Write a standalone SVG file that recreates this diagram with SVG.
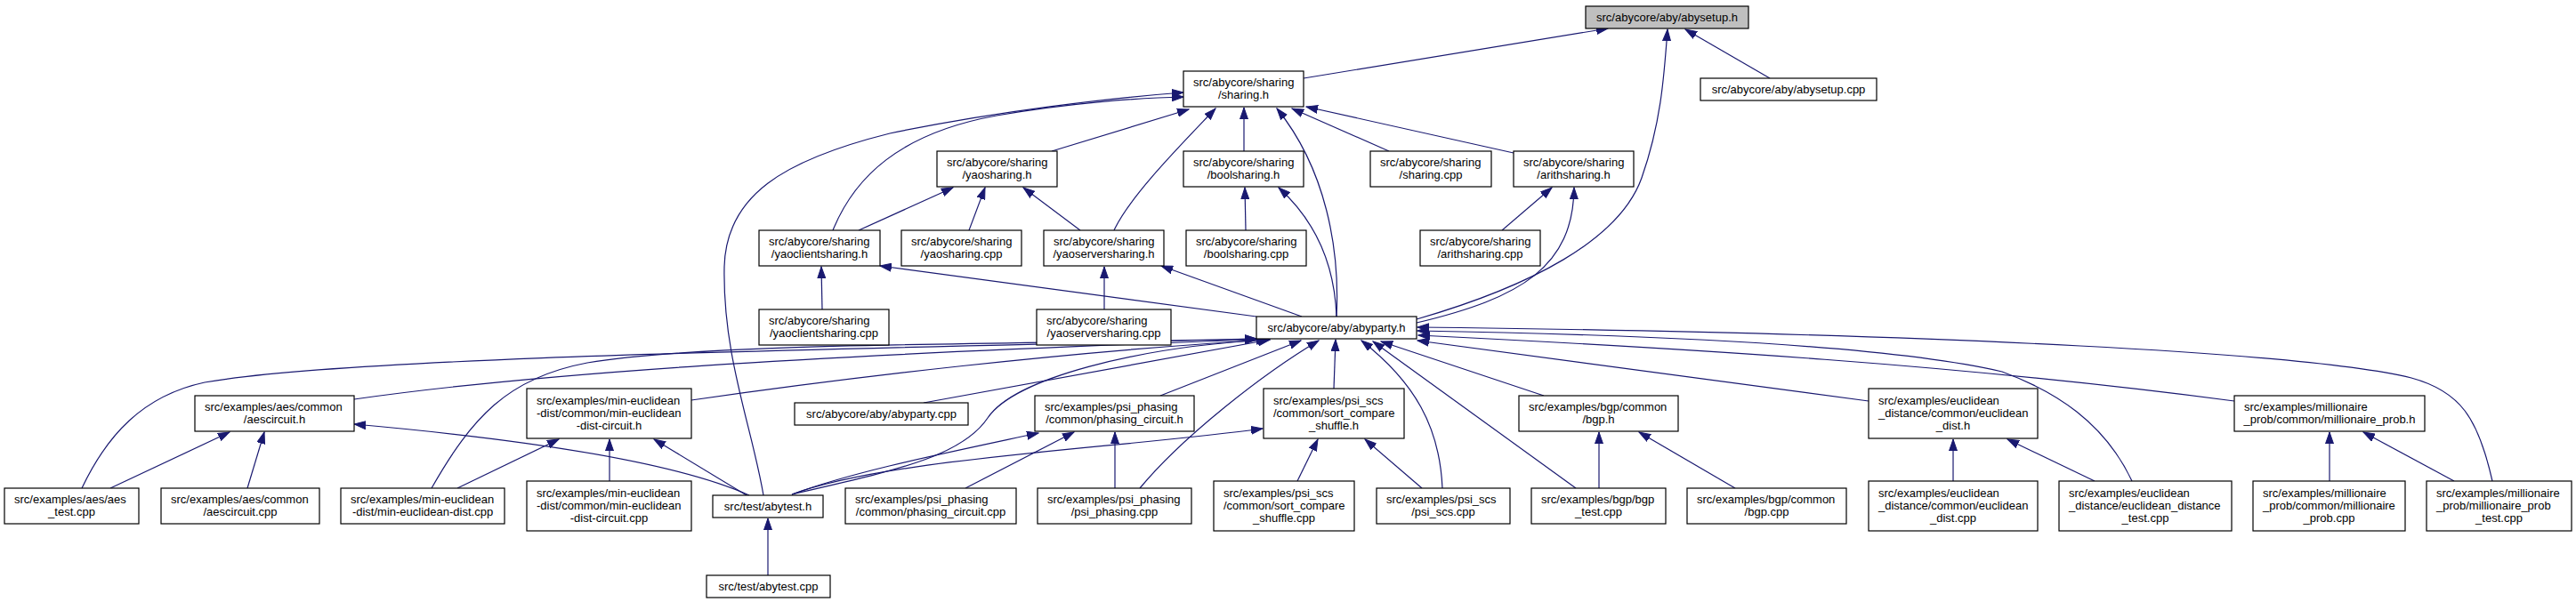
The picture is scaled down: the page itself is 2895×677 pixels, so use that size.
<svg xmlns="http://www.w3.org/2000/svg" width="2895" height="677" viewBox="0 0 2895 677">
<defs>
<style>
.n rect{fill:#fff;stroke:#000;stroke-width:1.2}
.root rect{fill:#bfbfbf}
text{font-family:"Liberation Sans",Arial,Helvetica,sans-serif;font-size:13px;fill:#000}
.m{text-anchor:middle}
#edges path{fill:none;stroke:#191970;stroke-width:1.2;marker-end:url(#ah)}
</style>
<marker id="ah" markerUnits="userSpaceOnUse" markerWidth="14" markerHeight="10" refX="13" refY="5" orient="auto"><path d="M0,0.5 L13,5 L0,9.5 z" fill="#191970" stroke="#191970" stroke-width="1"/></marker>
</defs>
<rect width="2895" height="677" fill="#fff"/>
<g id="edges">
<path d="M1465,88 L1807,32"/>
<path d="M1989,88 L1894,33"/>
<path d="M1592,359 C1720,322 1820,270 1845,200 C1866,140 1870,90 1874,33"/>
<path d="M1182,170 L1336,123"/>
<path d="M1398,170 L1398,121"/>
<path d="M1561,170 L1452,122"/>
<path d="M1701,172 L1468,120"/>
<path d="M1252,259 C1270,220 1330,160 1366,122"/>
<path d="M1502,356 C1506,280 1490,190 1435,122"/>
<path d="M1502,356 C1500,300 1480,250 1437,211"/>
<path d="M936,259 C960,200 1010,150 1120,130 C1200,116 1280,110 1330,109"/>
<path d="M858,557 C845,480 812,400 814,300 C816,220 880,180 1000,150 C1120,125 1250,110 1330,104"/>
<path d="M965,259 L1071,211"/>
<path d="M1089,259 L1107,211"/>
<path d="M1214,259 L1150,211"/>
<path d="M1400,259 L1399,211"/>
<path d="M1688,259 L1744,211"/>
<path d="M1592,363 C1710,335 1768,300 1769,211"/>
<path d="M924,348 L923,300"/>
<path d="M1412,356 L989,299"/>
<path d="M1241,348 L1241,300"/>
<path d="M1463,356 L1305,299"/>
<path d="M92,549 C120,490 160,445 230,430 C400,400 1000,392 1412,381"/>
<path d="M485,549 C530,470 570,425 660,408 C800,385 1100,388 1412,381"/>
<path d="M398,449 C600,420 900,400 1412,382"/>
<path d="M777,450 C950,425 1200,395 1427,382"/>
<path d="M1038,453 L1427,382"/>
<path d="M890,556 C1000,530 1080,515 1110,470 C1140,425 1280,390 1425,382"/>
<path d="M1304,445 L1462,383"/>
<path d="M1281,549 C1330,490 1420,420 1482,383"/>
<path d="M1499,437 L1501,382"/>
<path d="M1621,549 C1618,480 1590,430 1530,383"/>
<path d="M1771,549 L1543,384"/>
<path d="M1735,445 L1552,384"/>
<path d="M2100,451 L1593,383"/>
<path d="M2511,451 C2200,410 1900,392 1594,377"/>
<path d="M2396,541 C2365,475 2310,440 2250,418 C2150,395 1950,378 1593,372"/>
<path d="M2801,541 C2785,470 2765,440 2710,425 C2600,398 2200,375 1593,368"/>
<path d="M842,557 C760,520 600,495 398,477"/>
<path d="M839,557 L735,494"/>
<path d="M890,556 C960,530 1060,510 1167,487"/>
<path d="M890,556 C1000,515 1250,505 1419,482"/>
<path d="M863,647 L863,583"/>
<path d="M124,549 L258,486"/>
<path d="M278,549 L297,486"/>
<path d="M514,549 L628,494"/>
<path d="M685,541 L685,494"/>
<path d="M1085,549 L1207,486"/>
<path d="M1253,549 L1253,486"/>
<path d="M1458,541 L1481,494"/>
<path d="M1598,549 L1534,494"/>
<path d="M1797,549 L1797,486"/>
<path d="M1950,549 L1842,486"/>
<path d="M2195,541 L2195,494"/>
<path d="M2354,541 L2256,494"/>
<path d="M2618,541 L2618,486"/>
<path d="M2758,541 L2656,486"/>
</g>
<g id="n0" class="n root"><rect x="1782" y="7" width="183" height="25"/><text class="m" x="1873.5" y="23.5">src/abycore/aby/abysetup.h</text></g>
<g id="n1" class="n"><rect x="1330" y="80" width="135" height="40"/><text x="1341" y="97">src/abycore/sharing</text><text class="m" x="1397.5" y="111">/sharing.h</text></g>
<g id="n2" class="n"><rect x="1911" y="88" width="198" height="25"/><text class="m" x="2010" y="104.5">src/abycore/aby/abysetup.cpp</text></g>
<g id="n3" class="n"><rect x="1053" y="170" width="135" height="40"/><text x="1064" y="187">src/abycore/sharing</text><text class="m" x="1120.5" y="201">/yaosharing.h</text></g>
<g id="n4" class="n"><rect x="1330" y="170" width="135" height="40"/><text x="1341" y="187">src/abycore/sharing</text><text class="m" x="1397.5" y="201">/boolsharing.h</text></g>
<g id="n5" class="n"><rect x="1540" y="170" width="136" height="40"/><text x="1551" y="187">src/abycore/sharing</text><text class="m" x="1608" y="201">/sharing.cpp</text></g>
<g id="n6" class="n"><rect x="1701" y="170" width="135" height="40"/><text x="1712" y="187">src/abycore/sharing</text><text class="m" x="1768.5" y="201">/arithsharing.h</text></g>
<g id="n7" class="n"><rect x="853" y="259" width="136" height="40"/><text x="864" y="276">src/abycore/sharing</text><text class="m" x="921" y="290">/yaoclientsharing.h</text></g>
<g id="n8" class="n"><rect x="1013" y="259" width="135" height="40"/><text x="1024" y="276">src/abycore/sharing</text><text class="m" x="1080.5" y="290">/yaosharing.cpp</text></g>
<g id="n9" class="n"><rect x="1173" y="259" width="135" height="40"/><text x="1184" y="276">src/abycore/sharing</text><text class="m" x="1240.5" y="290">/yaoserversharing.h</text></g>
<g id="n10" class="n"><rect x="1333" y="259" width="135" height="40"/><text x="1344" y="276">src/abycore/sharing</text><text class="m" x="1400.5" y="290">/boolsharing.cpp</text></g>
<g id="n11" class="n"><rect x="1596" y="259" width="135" height="40"/><text x="1607" y="276">src/abycore/sharing</text><text class="m" x="1663.5" y="290">/arithsharing.cpp</text></g>
<g id="n12" class="n"><rect x="853" y="348" width="146" height="40"/><text x="864" y="365">src/abycore/sharing</text><text class="m" x="926" y="379">/yaoclientsharing.cpp</text></g>
<g id="n13" class="n"><rect x="1165" y="348" width="151" height="40"/><text x="1176" y="365">src/abycore/sharing</text><text class="m" x="1240.5" y="379">/yaoserversharing.cpp</text></g>
<g id="n14" class="n"><rect x="1412" y="356" width="180" height="25"/><text class="m" x="1502" y="372.5">src/abycore/aby/abyparty.h</text></g>
<g id="n15" class="n"><rect x="219" y="445" width="179" height="40"/><text x="230" y="462">src/examples/aes/common</text><text class="m" x="308.5" y="476">/aescircuit.h</text></g>
<g id="n16" class="n"><rect x="592" y="437" width="185" height="56"/><text x="603" y="455">src/examples/min-euclidean</text><text x="603" y="469">-dist/common/min-euclidean</text><text class="m" x="684.5" y="483">-dist-circuit.h</text></g>
<g id="n17" class="n"><rect x="893" y="453" width="195" height="25"/><text class="m" x="990.5" y="469.5">src/abycore/aby/abyparty.cpp</text></g>
<g id="n18" class="n"><rect x="1163" y="445" width="179" height="40"/><text x="1174" y="462">src/examples/psi_phasing</text><text class="m" x="1252.5" y="476">/common/phasing_circuit.h</text></g>
<g id="n19" class="n"><rect x="1420" y="437" width="158" height="56"/><text x="1431" y="455">src/examples/psi_scs</text><text x="1431" y="469">/common/sort_compare</text><text class="m" x="1499" y="483">_shuffle.h</text></g>
<g id="n20" class="n"><rect x="1707" y="445" width="179" height="40"/><text x="1718" y="462">src/examples/bgp/common</text><text class="m" x="1796.5" y="476">/bgp.h</text></g>
<g id="n21" class="n"><rect x="2100" y="437" width="190" height="56"/><text x="2111" y="455">src/examples/euclidean</text><text x="2111" y="469">_distance/common/euclidean</text><text class="m" x="2195" y="483">_dist.h</text></g>
<g id="n22" class="n"><rect x="2511" y="445" width="214" height="40"/><text x="2522" y="462">src/examples/millionaire</text><text class="m" x="2618" y="476">_prob/common/millionaire_prob.h</text></g>
<g id="n23" class="n"><rect x="5" y="549" width="151" height="40"/><text x="16" y="566">src/examples/aes/aes</text><text class="m" x="80.5" y="580">_test.cpp</text></g>
<g id="n24" class="n"><rect x="181" y="549" width="178" height="40"/><text x="192" y="566">src/examples/aes/common</text><text class="m" x="270" y="580">/aescircuit.cpp</text></g>
<g id="n25" class="n"><rect x="383" y="549" width="184" height="40"/><text x="394" y="566">src/examples/min-euclidean</text><text class="m" x="475" y="580">-dist/min-euclidean-dist.cpp</text></g>
<g id="n26" class="n"><rect x="592" y="541" width="185" height="56"/><text x="603" y="559">src/examples/min-euclidean</text><text x="603" y="573">-dist/common/min-euclidean</text><text class="m" x="684.5" y="587">-dist-circuit.cpp</text></g>
<g id="n27" class="n"><rect x="801" y="557" width="124" height="25"/><text class="m" x="863" y="573.5">src/test/abytest.h</text></g>
<g id="n28" class="n"><rect x="950" y="549" width="192" height="40"/><text x="961" y="566">src/examples/psi_phasing</text><text class="m" x="1046" y="580">/common/phasing_circuit.cpp</text></g>
<g id="n29" class="n"><rect x="1166" y="549" width="173" height="40"/><text x="1177" y="566">src/examples/psi_phasing</text><text class="m" x="1252.5" y="580">/psi_phasing.cpp</text></g>
<g id="n30" class="n"><rect x="1364" y="541" width="158" height="56"/><text x="1375" y="559">src/examples/psi_scs</text><text x="1375" y="573">/common/sort_compare</text><text class="m" x="1443" y="587">_shuffle.cpp</text></g>
<g id="n31" class="n"><rect x="1547" y="549" width="150" height="40"/><text x="1558" y="566">src/examples/psi_scs</text><text class="m" x="1622" y="580">/psi_scs.cpp</text></g>
<g id="n32" class="n"><rect x="1721" y="549" width="151" height="40"/><text x="1732" y="566">src/examples/bgp/bgp</text><text class="m" x="1796.5" y="580">_test.cpp</text></g>
<g id="n33" class="n"><rect x="1896" y="549" width="179" height="40"/><text x="1907" y="566">src/examples/bgp/common</text><text class="m" x="1985.5" y="580">/bgp.cpp</text></g>
<g id="n34" class="n"><rect x="2100" y="541" width="190" height="56"/><text x="2111" y="559">src/examples/euclidean</text><text x="2111" y="573">_distance/common/euclidean</text><text class="m" x="2195" y="587">_dist.cpp</text></g>
<g id="n35" class="n"><rect x="2314" y="541" width="194" height="56"/><text x="2325" y="559">src/examples/euclidean</text><text x="2325" y="573">_distance/euclidean_distance</text><text class="m" x="2411" y="587">_test.cpp</text></g>
<g id="n36" class="n"><rect x="2532" y="541" width="171" height="56"/><text x="2543" y="559">src/examples/millionaire</text><text x="2543" y="573">_prob/common/millionaire</text><text class="m" x="2617.5" y="587">_prob.cpp</text></g>
<g id="n37" class="n"><rect x="2727" y="541" width="163" height="56"/><text x="2738" y="559">src/examples/millionaire</text><text x="2738" y="573">_prob/millionaire_prob</text><text class="m" x="2808.5" y="587">_test.cpp</text></g>
<g id="n38" class="n"><rect x="794" y="647" width="139" height="25"/><text class="m" x="863.5" y="663.5">src/test/abytest.cpp</text></g>
</svg>
